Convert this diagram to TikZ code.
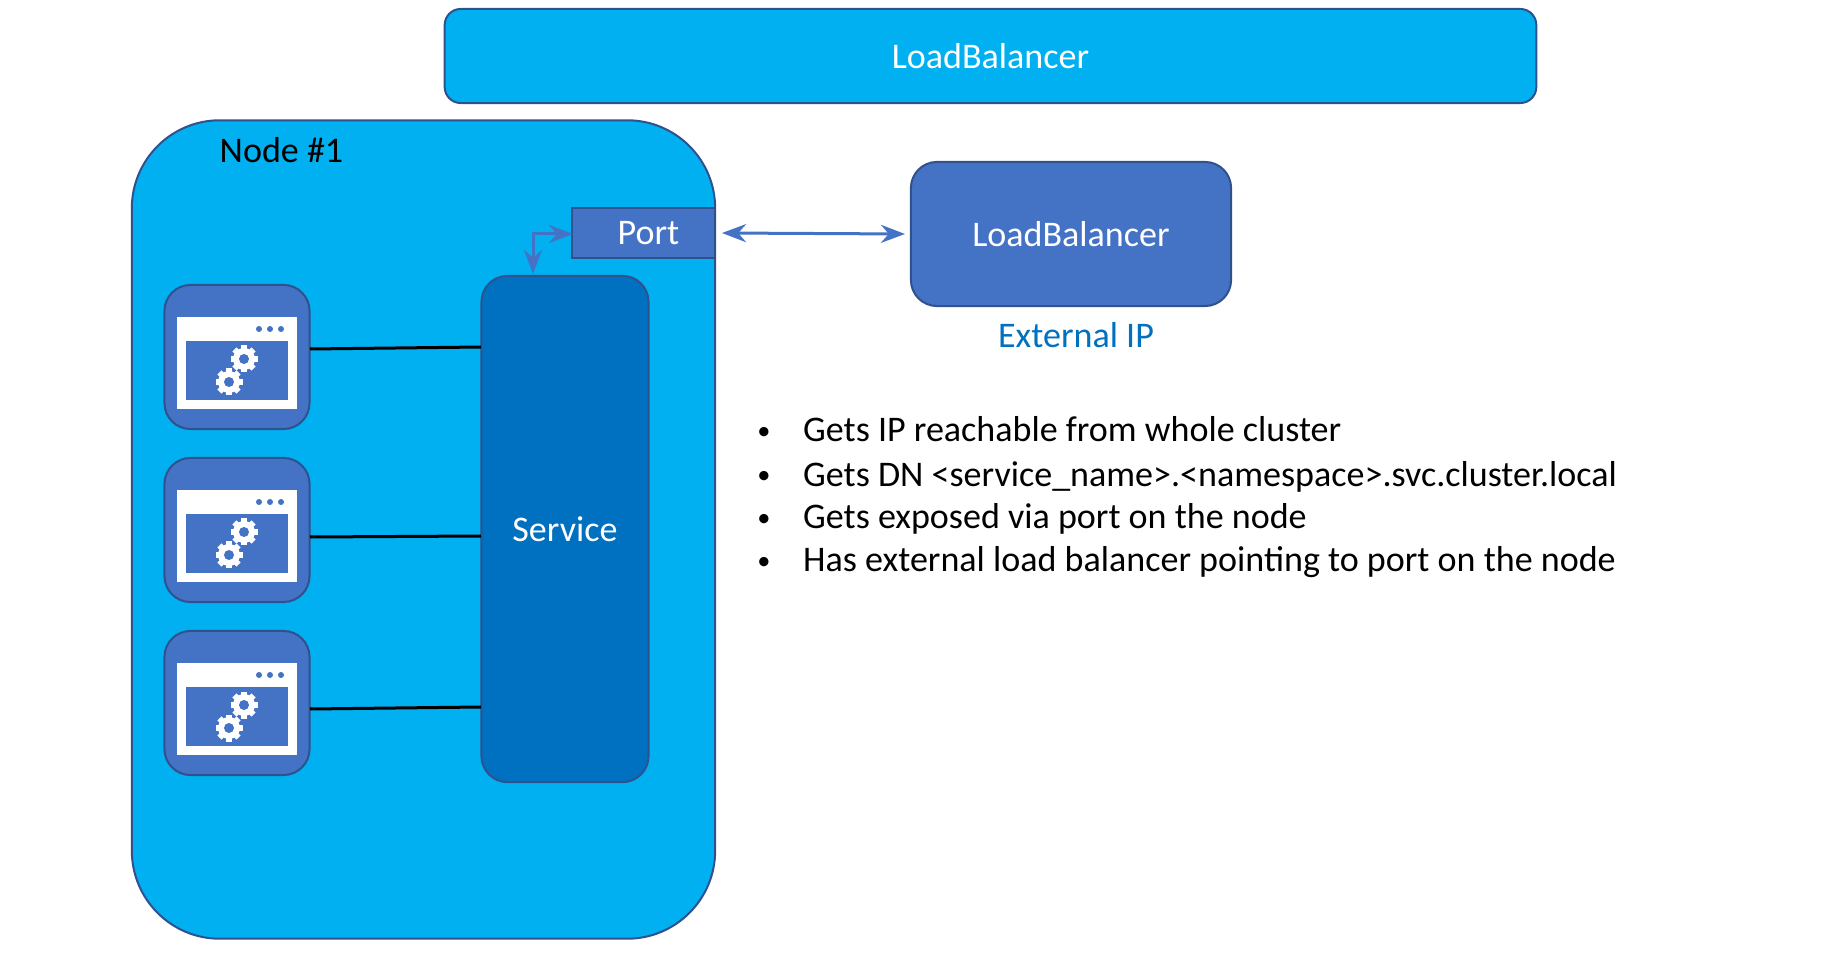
\documentclass[tikz,border=0pt]{standalone}
\usepackage{fontspec}
\setmainfont{Carlito}
\usepackage{xcolor}
\usetikzlibrary{arrows.meta}
\definecolor{NodeBlue}{HTML}{00B0F0}
\definecolor{BoxBlue}{HTML}{4472C4}
\definecolor{DarkBlue}{HTML}{0070C0}
\definecolor{EdgeBlue}{HTML}{2F528F}

\begin{document}
\begin{tikzpicture}[
          x=0.01cm,y=-0.01cm,
          % Environment Config
          font=\fontsize{10.25}{12}\selectfont,
          MyBox/.style={% Style for the boxes
            draw=EdgeBlue,
            line width=0.02cm,
            rounded corners=#1,
            inner sep=0pt
          },
          MyArrow/.style={% Style for the port links
            Stealth-Stealth,
            BoxBlue,
            line width=0.03cm
          },
          Wire/.style={% Style for pod wires
            black,
            line width=0.03cm
          },
          Bullet/.style={anchor=base west,inner sep=0pt},
          BulletDot/.style={anchor=base,inner sep=0pt,font=\fontsize{7.5}{9}\selectfont}
        ]
        \useasboundingbox (0,0) rectangle (1832,976);

        \def\MyGear(#1){% Customized gear
          \begin{scope}[shift={(#1)}]
            \fill[white] (0,0) circle (11);
            \foreach \a in {0,45,...,315}
              \draw[white,line width=0.06cm] (\a:8) -- (\a:13.5);
            \fill[BoxBlue] (0,0) circle (5);
          \end{scope}
        }
        \def\MyApp(#1)#2{% Custom application box
          \node[MyBox=0.26cm,fill=BoxBlue,minimum width=1.45cm,minimum height=1.44cm] (#2) at (#1) {};
          \begin{scope}[shift={(#1)}]
            %===Window===
            \fill[white] (-60,-40) rectangle (60,52);
            \fill[BoxBlue] (-51,-16) rectangle (51,43);
            %===Dots===
            \foreach \x in {22,33,44}
              \fill[BoxBlue] (\x,-28) circle (3);
            %===Gears===
            \MyGear(7,2)
            \MyGear(-8,25)
          \end{scope}
        }

        % Put the main boxes in position
        \node[MyBox=0.16cm,fill=NodeBlue,minimum width=10.91cm,minimum height=0.94cm,text=white] (TopLB) at (990.5,56) {LoadBalancer};
        \node[MyBox=0.88cm,fill=NodeBlue,minimum width=5.83cm,minimum height=8.18cm] (Node1) at (423.5,529.5) {};
        \node (Node1Label) at (281.5,150) {Node \#1};
        \node[MyBox=0.26cm,fill=DarkBlue,minimum width=1.67cm,minimum height=5.06cm,text=white] (Service) at (565,529) {Service};
        \node[MyBox=0pt,fill=BoxBlue,minimum width=1.43cm,minimum height=0.49cm,text=white] (Port) at (643.5,233) {\hspace*{0.1cm}Port};
        \node[MyBox=0.26cm,fill=BoxBlue,minimum width=3.2cm,minimum height=1.44cm,text=white] (ExtLB) at (1071,234) {LoadBalancer};
        \node[text=DarkBlue] (ExtIP) at (1076,335) {External IP};

        % Put the application boxes in position
        \MyApp(237,357){App1}
        \MyApp(237,530){App2}
        \MyApp(237,703){App3}

        % Draw the wires
        \coordinate (App1 OUT) at (310,349);
        \coordinate (App2 OUT) at (310,537);
        \coordinate (App3 OUT) at (310,709);
        \coordinate (Service IN1) at (481,347);
        \coordinate (Service IN2) at (481,536);
        \coordinate (Service IN3) at (481,707);
        \draw[Wire] (App1 OUT) -- (Service IN1);
        \draw[Wire] (App2 OUT) -- (Service IN2);
        \draw[Wire] (App3 OUT) -- (Service IN3);

        % Port links
        \coordinate (Port OUT) at (722,233);
        \coordinate (ExtLB IN) at (905,234);
        \draw[MyArrow] (Port OUT) -- (ExtLB IN);
        \coordinate (Port IN) at (573,234);
        \coordinate (Service OUT) at (533,274);
        \draw[MyArrow] (Port IN) -| (Service OUT);

        % Bullet list
        \foreach \i/\y/\txt in {
            1/442/Gets IP reachable from whole cluster,
            2/486/Gets DN <service\_name>.<namespace>.svc.cluster.local,
            3/528.5/Gets exposed via port on the node,
            4/571.5/Has external load balancer pointing to port on the node}{
          \node[BulletDot] (Dot\i) at (764,\y-2) {•};
          \node[Bullet] (Line\i) at (802.5,\y) {\txt};
        }
        \end{tikzpicture}
\end{document}
